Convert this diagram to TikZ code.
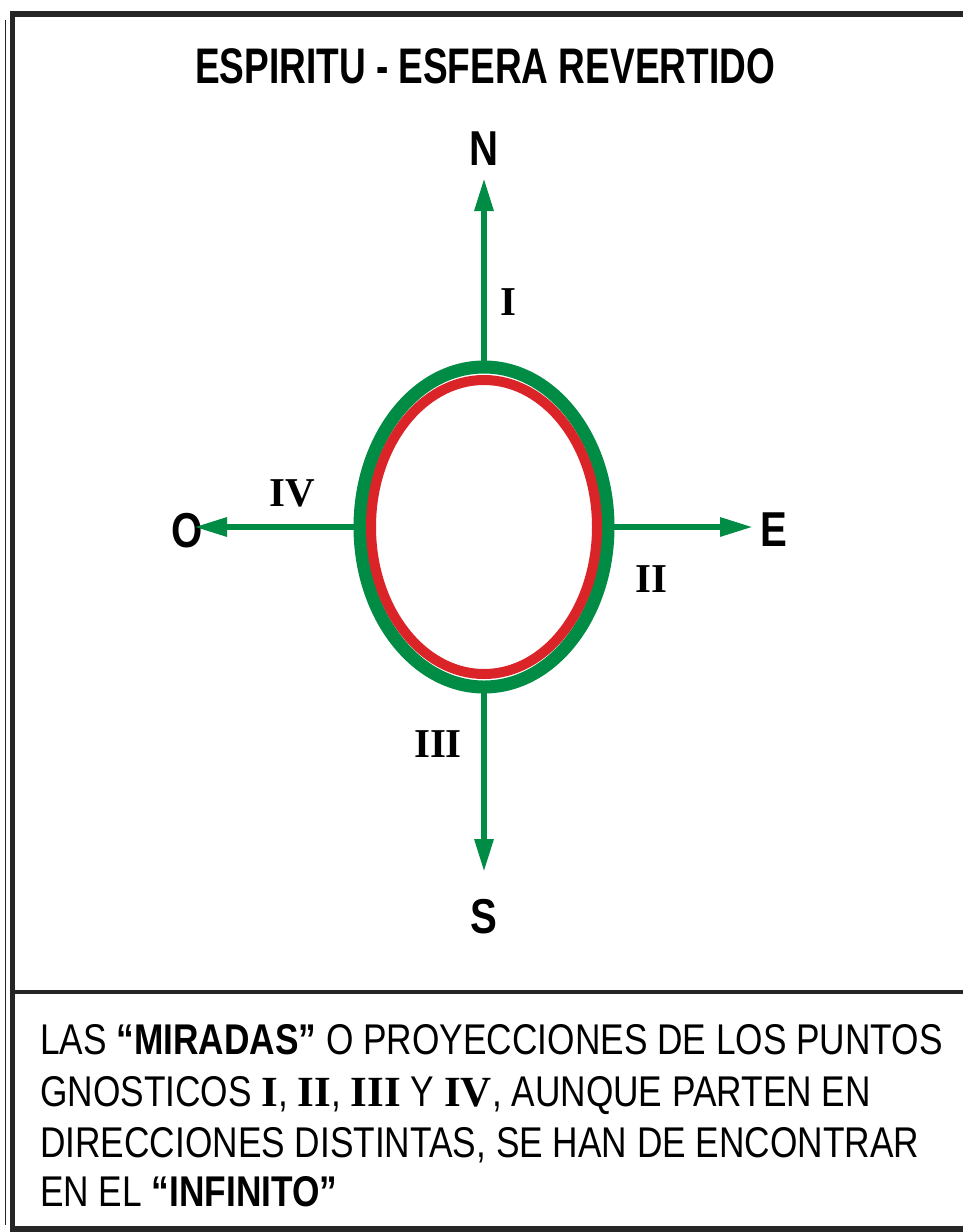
\documentclass[tikz,border=0pt]{standalone}
\usepackage{fontspec}
\setmainfont{Liberation Sans}[FakeStretch=0.82]
\newfontfamily\titlefont{Liberation Sans}[FakeStretch=0.74]
\newfontfamily\rmn{Liberation Serif}
\usetikzlibrary{arrows.meta}
\definecolor{gr}{RGB}{0,140,68}
\definecolor{rd}{RGB}{218,36,40}
\tikzset{
  frameline/.style={line width=6pt, black!85},
  ray/.style={gr, line width=6pt, -{Triangle[length=33pt,width=18pt]}},
  cardinal/.style={font=\fontsize{49}{49}\selectfont\bfseries, inner sep=0pt, anchor=base},
  roman/.style={font=\fontsize{41}{41}\selectfont\rmn\bfseries, inner sep=0pt, anchor=base},
  bodyline/.style={font=\fontsize{43}{43}\selectfont, inner sep=0pt, anchor=base west}
}
\begin{document}
\begin{tikzpicture}[x=1pt,y=-1pt]
\useasboundingbox (0,0) rectangle (963,1232);
\fill[white] (0,0) rectangle (963,1232);
% frame
\draw[frameline] (12.5,13.5) -- (975,13.5);
\draw[frameline, line width=5pt] (12.5,11) -- (12.5,1232);
\draw[frameline] (10,1229) -- (975,1229);
\draw[black!85, line width=0.8pt] (5,20) -- (5,1225);
\draw[black!85, line width=4pt] (12.5,992) -- (975,992);
% title
\node[cardinal, font=\fontsize{50}{50}\selectfont\titlefont\bfseries] (title) at (485,83) {ESPIRITU - ESFERA REVERTIDO};
% sphere
\coordinate (c) at (484,527);
\draw[gr, line width=13pt] (c) ellipse [x radius=124, y radius=160];
\draw[rd, line width=10pt] (c) ellipse [x radius=113, y radius=147];
\coordinate (top) at (484,362);
\coordinate (bot) at (484,693);
\coordinate (lft) at (355,527);
\coordinate (rgt) at (613,527);
% labels
\node[cardinal] (N) at (484,165) {N};
\node[cardinal] (S) at (484,933) {S};
\node[cardinal] (E) at (774,546) {E};
\node[cardinal] (O) at (187,547) {O};
% rays
\draw[ray] (top) -- (N.south |- 0,178);
\draw[ray] (bot) -- (S.north |- 0,872);
\draw[ray] (rgt) -- (753,527);
\draw[ray] (lft) -- (194,527);
\node[roman] (r1) at (508,315) {I};
\node[roman] (r2) at (651,592) {II};
\node[roman] (r3) at (438,757) {III};
\node[roman] (r4) at (292,506) {IV};
% caption
\node[bodyline] (l1) at (40,1054) {LAS {\bfseries “MIRADAS”} O PROYECCIONES DE LOS PUNTOS};
\node[bodyline] (l2) at (40,1106) {GNOSTICOS {\rmn\bfseries I}, {\rmn\bfseries II}, {\rmn\bfseries III} Y {\rmn\bfseries IV}, AUNQUE PARTEN EN};
\node[bodyline] (l3) at (40,1157) {DIRECCIONES DISTINTAS, SE HAN DE ENCONTRAR};
\node[bodyline] (l4) at (40,1206) {EN EL {\bfseries “INFINITO”}};
\end{tikzpicture}
\end{document}
